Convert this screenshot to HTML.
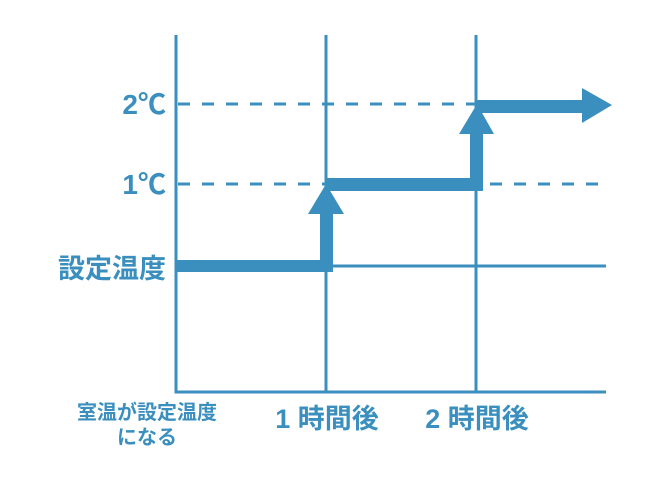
<!DOCTYPE html>
<html><head><meta charset="utf-8"><style>
body{margin:0;background:#fff}
svg{display:block}
text{font-family:"Liberation Sans","Noto Sans CJK JP",sans-serif;fill:#3a8fbf;font-weight:bold}
</style></head><body>
<svg width="666" height="500" viewBox="0 0 666 500">
<g stroke="#3a8fbf" fill="none" stroke-width="3">
<line x1="176" y1="35" x2="176" y2="393"/>
<line x1="174.5" y1="392" x2="606" y2="392"/>
<line x1="326" y1="35" x2="326" y2="392"/>
<line x1="476" y1="35" x2="476" y2="392"/>
<line x1="176" y1="266" x2="606" y2="266"/>
<line x1="178" y1="104" x2="606" y2="104" stroke-dasharray="12,12"/>
<line x1="178" y1="184" x2="606" y2="184" stroke-dasharray="12,12"/>
</g>
<g fill="#3a8fbf">
<rect x="176" y="260" width="157" height="12"/>
<rect x="320" y="212" width="13" height="60"/>
<polygon points="308,214 344,214 326,184"/>
<rect x="326" y="178" width="157" height="13"/>
<rect x="470" y="132" width="13" height="59"/>
<polygon points="459,134 494,134 477,104"/>
<rect x="476" y="100" width="110" height="13"/>
<polygon points="582,88 582,123 612,105"/>
</g>
<text x="166" y="114" font-size="28" text-anchor="end" font-weight="normal">2℃</text>
<text x="166" y="194" font-size="28" text-anchor="end" font-weight="normal">1℃</text>
<text x="166" y="278" font-size="27" text-anchor="end">設定温度</text>
<text x="147" y="419" font-size="20" text-anchor="middle">室温が設定温度</text>
<text x="147" y="444" font-size="20" text-anchor="middle">になる</text>
<text x="327" y="428" font-size="27" text-anchor="middle">1 時間後</text>
<text x="477" y="428" font-size="27" text-anchor="middle">2 時間後</text>
</svg>
</body></html>
